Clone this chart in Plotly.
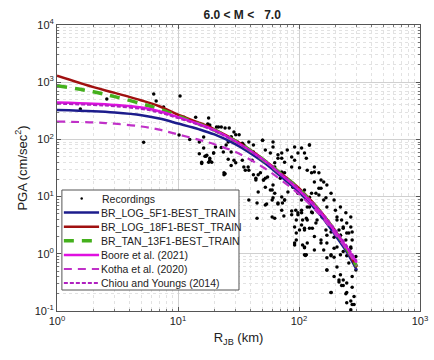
import plotly.graph_objects as go

# ---- data ----
rec_r = [1.56, 2.58, 6.3, 6.6, 7.6, 10.4, 11.2, 14, 17.9, 5.2,
         17.6, 18.6, 21.6, 24.5, 26.5, 29, 30, 28.5, 34, 31,
         10.2, 12.5, 15, 16.3, 15, 17, 19.7, 15.7, 18.3, 26,
         20.4, 22.8, 26, 24, 35, 38.5, 42, 48, 50.8, 55,
         60, 63, 67, 72, 80, 92, 111, 122, 115, 134,
         127, 146, 160, 134, 152, 146, 127, 111, 98, 89,
         81, 76, 67, 60, 52.7, 46, 61, 72, 87, 95,
         105, 117, 129, 141, 155, 170, 188, 206, 225, 248,
         268, 275, 232, 214, 184, 167, 170, 195, 220, 248,
         117, 129, 92, 111, 115, 160, 170, 184, 195, 206,
         170, 220, 232, 248, 225, 275, 184, 248, 275, 268,
         285, 244, 214, 258, 195, 152, 232, 268, 295, 295,
         275, 54, 67, 73, 63, 75, 87, 94, 98, 105,
         107, 115, 105, 101, 111, 95, 92, 107, 111, 113,
         122, 127, 22.8, 27.5, 32, 27.5, 25, 23.7, 27.5, 29,
         35, 38.5, 42, 50, 52.7, 61, 58, 67, 72, 44,
         46, 52.7, 58, 63, 70, 76, 87, 92, 98, 101,
         72, 52.7, 38.5, 45, 38, 41, 60, 16.7, 18.3, 17.9,
         15.7, 19.7, 24.5, 27.5, 30, 34, 36, 44, 18.3, 20.8,
         16.3, 17.3, 19, 24, 36, 42, 50, 61, 51, 63,
         72, 76, 87, 105, 122, 117, 134, 152, 146, 170,
         167, 195, 170, 200, 220, 244, 268, 98, 92, 111,
         95, 117, 111, 184, 170, 195, 214, 232, 248, 268,
         285, 184, 220, 248, 268, 152, 134, 60, 45, 61,
         89, 76, 105, 122, 138, 160, 184, 206, 232, 258,
         195, 160, 138, 122, 170, 206, 268, 244, 275, 220,
         134]
rec_pga = [339, 508, 622, 470, 368, 575, 245, 245, 237, 89,
           186, 158, 165, 158, 158, 135, 120, 97, 86, 90,
           119, 100, 90, 71, 56, 51, 58, 40, 43, 45,
           74, 72, 90, 26, 33, 29, 24, 26, 19.5, 22,
           33, 39, 47, 58, 65, 74, 58, 80, 47, 33,
           26, 26, 18, 18, 14, 10.7, 11.5, 13, 11.5, 14.6,
           12, 8.7, 7.7, 13, 14.6, 12, 9.5, 5.8, 4.8, 3.9,
           5.8, 6.6, 5.2, 3.9, 4.4, 3.6, 2.95, 4.4, 3.9, 3.45,
           2.95, 2.4, 2.8, 2.6, 2.4, 2.6, 2.1, 1.95, 2.1, 2.3,
           3.9, 2.8, 1.43, 1.32, 0.96, 1.17, 0.85, 0.96, 0.87, 0.59,
           0.52, 0.43, 0.35, 0.31, 0.28, 0.26, 0.21, 0.14, 0.13, 0.105,
           0.18, 0.2, 0.35, 0.69, 1.25, 1.55, 1.1, 1.25, 0.9, 0.52,
           0.4, 7.4, 7.4, 7.7, 4.2, 4.6, 5.6, 5.8, 4.8, 5.2,
           3.9, 4.2, 3.2, 2.6, 2.8, 2.3, 1.55, 1.43, 1.27, 0.93,
           6.6, 5.4, 165, 110, 120, 110, 80, 60, 60, 43,
           80, 90, 80, 97, 65, 74, 58, 54, 47, 19.5,
           24, 21, 13, 11.5, 21, 26, 33, 43, 58, 32,
           9.8, 7.1, 8.7, 7.7, 33, 43, 8.7, 51, 47, 40,
           38, 58, 25, 35, 39, 43, 29, 21, 178, 165,
           110, 53, 40, 24, 74, 60, 97, 90, 19.5, 33,
           27, 40, 49, 71, 80, 29, 27, 19.5, 14, 16,
           9.5, 8.7, 6.6, 5.8, 6.6, 5.2, 4.4, 5.2, 2.95, 2.6,
           1.75, 1.55, 0.96, 0.92, 0.52, 0.4, 0.32, 0.28, 0.21, 0.15,
           0.13, 0.21, 0.96, 0.92, 0.87, 1.75, 1.17, 4.4, 4.2, 16,
           17, 8.7, 8.7, 9.7, 11.5, 8.7, 11.5, 3.9, 2.95, 2.3,
           2.6, 4.4, 3.45, 2.8, 1.55, 1.32, 1.32, 1.75, 1.75, 2.1,
           2.0]

dist = [1, 2, 3, 5, 7, 10, 15, 20, 30, 50, 70, 100, 150, 200, 250, 300]
br_log_5f1 = [325, 310, 295, 265, 232, 190, 150, 122, 82, 41, 23, 12, 4.8, 2.1, 1.05, 0.52]
br_log_18f1 = [1300, 820, 650, 480, 380, 270, 195, 150, 95, 46, 26, 14, 5.6, 2.5, 1.15, 0.58]
br_tan_13f1 = [870, 680, 560, 420, 340, 255, 185, 145, 93, 45, 25.5, 13.5, 5.4, 2.4, 1.2, 0.6]
boore2021 = [440, 420, 400, 360, 310, 245, 185, 145, 92, 45, 25, 13, 5.3, 2.4, 1.25, 0.7]
kotha2020 = [205, 198, 188, 168, 148, 122, 98, 82, 60, 33, 20, 11, 4.7, 2.2, 1.15, 0.62]
chiou2014 = [420, 400, 380, 340, 295, 235, 178, 140, 90, 45, 25.5, 13.5, 5.6, 2.6, 1.35, 0.75]

x_ticks = [1, 10, 100, 1000]
x_tick_text = ["10<sup>0</sup>", "10<sup>1</sup>", "10<sup>2</sup>", "10<sup>3</sup>"]
y_ticks = [0.1, 1, 10, 100, 1000, 10000]
y_tick_text = ["10<sup>-1</sup>", "10<sup>0</sup>", "10<sup>1</sup>", "10<sup>2</sup>",
               "10<sup>3</sup>", "10<sup>4</sup>"]

FONT = "Liberation Sans, Arial, sans-serif"
W, H = 434, 360
ML, MR, MT, MB = 57, 6, 25, 49
PW, PH = W - ML - MR, H - MT - MB


def px(xp):
    return (xp - ML) / PW


def py(yp):
    return (H - MB - yp) / PH


fig = go.Figure()
fig.add_trace(go.Scatter(x=rec_r, y=rec_pga, mode="markers", name="Recordings",
                         marker=dict(color="black", size=3.5), showlegend=False))
curves = [
    ("BR_LOG_5F1-BEST_TRAIN", br_log_5f1, "#1c1c8c", "solid", 2.5),
    ("BR_LOG_18F1-BEST_TRAIN", br_log_18f1, "#a01010", "solid", 2.5),
    ("BR_TAN_13F1-BEST_TRAIN", br_tan_13f1, "#44b01c", "10px,8px", 3.5),
    ("Boore et al. (2021)", boore2021, "#e010e0", "solid", 2.5),
    ("Kotha et al. (2020)", kotha2020, "#c030c8", "8px,6px", 2.2),
    ("Chiou and Youngs (2014)", chiou2014, "#b020c0", "4px,2px", 2.0),
]
for name, vals, col, dash, w in curves:
    fig.add_trace(go.Scatter(x=dist, y=vals, mode="lines", name=name, showlegend=False,
                             line=dict(color=col, dash=dash, width=w, shape="spline")))

# ---- hand-built legend box (compact, like the reference) ----
shapes = [dict(type="rect", xref="paper", yref="paper",
               x0=px(62), x1=px(243), y0=py(290), y1=py(190),
               fillcolor="white", line=dict(color="#555555", width=1), layer="above")]
annotations = []
row0, rowstep = 198.5, 14.1
shapes.append(dict(type="circle", xref="paper", yref="paper",
                   x0=px(81), x1=px(83.5), y0=py(row0 + 1.2), y1=py(row0 - 1.3),
                   fillcolor="black", line=dict(color="black", width=0), layer="above"))
annotations.append(dict(text="Recordings", xref="paper", yref="paper",
                        x=px(101), y=py(row0), xanchor="left", yanchor="middle",
                        showarrow=False, font=dict(family=FONT, size=10.5, color="#222222")))
for i, (name, vals, col, dash, w) in enumerate(curves):
    yr = row0 + rowstep * (i + 1)
    shapes.append(dict(type="line", xref="paper", yref="paper",
                       x0=px(64), x1=px(100), y0=py(yr), y1=py(yr),
                       line=dict(color=col, dash=dash, width=w), layer="above"))
    annotations.append(dict(text=name, xref="paper", yref="paper",
                            x=px(100), y=py(yr), xanchor="left", yanchor="middle",
                            showarrow=False, font=dict(family=FONT, size=10.5, color="#222222")))

axis_common = dict(
    showline=True, linecolor="#555555", linewidth=1, mirror="ticks",
    ticks="inside", ticklen=4, tickcolor="#555555",
    showgrid=True, gridcolor="#d0d0d0", gridwidth=1,
    tickfont=dict(family=FONT, size=11, color="#222222"),
    zeroline=False, ticklabeloverflow="allow",
    minor=dict(dtick="D1", showgrid=True, gridcolor="#e2e2e2", griddash="dot",
               ticks="inside", ticklen=2, tickcolor="#777777"),
)
fig.update_xaxes(type="log", range=[0, 3], tickvals=x_ticks, ticktext=x_tick_text,
                 title=dict(text="R<sub>JB</sub> (km)", font=dict(family=FONT, size=13, color="#222222"),
                            standoff=6),
                 **axis_common)
fig.update_yaxes(type="log", range=[-1, 4], tickvals=y_ticks, ticktext=y_tick_text,
                 title=dict(text="PGA (cm/sec<sup>2</sup>)", font=dict(family=FONT, size=13, color="#222222"),
                            standoff=4),
                 **axis_common)

fig.update_layout(
    width=W, height=H,
    margin=dict(l=ML, r=MR, t=MT, b=MB),
    paper_bgcolor="white", plot_bgcolor="white",
    title=dict(text="<b>6.0 < M <   7.0</b>", x=0.558, xanchor="center", y=0.958, yanchor="middle",
               font=dict(family=FONT, size=12, color="#222222")),
    showlegend=False,
    shapes=shapes, annotations=annotations,
)
fig.write_html("out.html")
